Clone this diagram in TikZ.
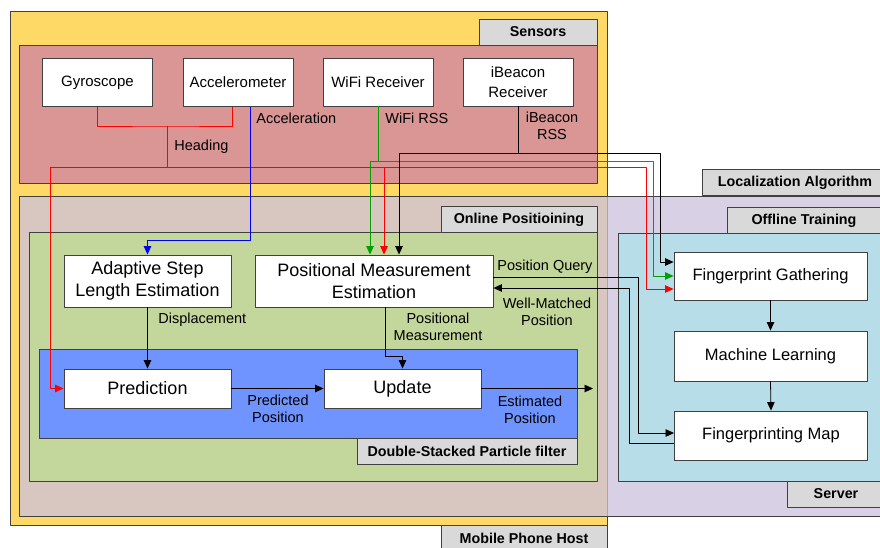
\documentclass[tikz,border=0pt]{standalone}
\usepackage{fontspec}
\setmainfont{Liberation Sans}
\usetikzlibrary{arrows.meta}

\definecolor{hostyellow}{RGB}{255,217,102}
\definecolor{sensorpink}{RGB}{217,150,148}
\definecolor{onlinegreen}{RGB}{195,214,155}
\definecolor{filterblue}{RGB}{112,148,255}
\definecolor{offlinecyan}{RGB}{183,221,232}
\definecolor{algolav}{RGB}{204,194,220}
\definecolor{tabgray}{RGB}{217,217,217}
\definecolor{framegray}{RGB}{64,64,64}
\definecolor{rssgreen}{RGB}{0,160,0}

\tikzset{
  areabox/.style={draw=framegray, line width=0.9pt},
  tab/.style={draw=framegray, line width=0.9pt, fill=tabgray, inner sep=0pt,
    minimum height=26pt, font=\fontsize{14.3}{16}\selectfont\bfseries},
  block/.style={draw=framegray, fill=white, line width=0.9pt, inner sep=0pt, align=center},
  sensor/.style={block, minimum width=110pt, minimum height=48pt,
    font=\fontsize{15}{20}\selectfont},
  online/.style={block, minimum height=52pt, font=\fontsize{18}{22}\selectfont},
  offline/.style={block, minimum width=193pt, minimum height=49pt,
    font=\fontsize{16.5}{20}\selectfont},
  lbl/.style={inner sep=0pt, align=center, font=\fontsize{14.5}{17}\selectfont},
}

\begin{document}
\begin{tikzpicture}[x=1pt, y=-1pt, >={Triangle[length=8.5pt,width=7.5pt]},
    line width=0.8pt, line join=round]
    \clip (0,0) rectangle (880,547);

    % 1. 手机端 (Mobile Phone Host)
    \draw[areabox, fill=hostyellow] (10,11) rectangle (607,525);
    \node[tab, minimum width=166pt] (hosttab) at (524,538) {Mobile Phone Host};

    % 2. 传感器区域
    \draw[areabox, fill=sensorpink] (19,45) rectangle (597,183);
    \node[tab, minimum width=118pt] (sensortab) at (538,32) {Sensors};

    % 3. 定位算法 (半透明, 覆盖在手机端之上)
    \draw[areabox, fill=algolav, fill opacity=0.77] (19,196) rectangle (888,516);
    \node[tab, minimum width=186pt] (algotab) at (795,182.5) {Localization Algorithm};

    % 4. 在线定位 + 粒子滤波
    \draw[areabox, fill=onlinegreen] (29,232) rectangle (597,481);
    \node[tab, minimum width=156pt] (onlinetab) at (519,219.5) {Online Positioining};
    \draw[areabox, fill=filterblue] (39,349) rectangle (577,438);
    \node[tab, minimum width=220pt] (filtertab) at (467,451) {Double-Stacked Particle filter};

    % 5. 离线训练 (服务器)
    \draw[areabox, fill=offlinecyan] (618,233) rectangle (888,481);
    \node[tab, minimum width=154pt] (offlinetab) at (804,220.5) {Offline Training};
    \node[tab, minimum width=98pt] (servertab) at (836,494) {Server};

    % 传感器
    \node[sensor] (gyro) at (97.5,82.5) {Gyroscope};
    \node[sensor] (acc) at (238,82.5) {Accelerometer};
    \node[sensor] (wifi) at (378,82) {WiFi Receiver};
    \node[sensor] (ibeacon) at (518,82) {iBeacon\\Receiver};

    % 在线模块
    \node[online, minimum width=167pt] (asle) at (147.5,281) {Adaptive Step\\Length Estimation};
    \node[online, minimum width=238pt] (pme) at (374,281) {Positional Measurement\\Estimation};
    \node[online, minimum width=167pt, minimum height=39pt] (pred) at (147.5,388.5) {Prediction};
    \node[online, minimum width=157pt, minimum height=39pt] (upd) at (402.5,388.5) {Update};

    % 离线模块
    \node[offline, minimum height=48pt] (fg) at (770.5,276) {Fingerprint Gathering};
    \node[offline, minimum height=50pt] (ml) at (770.5,356) {Machine Learning};
    \node[offline] (fm) at (771,435.5) {Fingerprinting Map};

    % Heading (红线)
    \coordinate (hj) at (167,126);
    \coordinate (hb) at (167,167);
    \coordinate (hl) at (50,167);
    \coordinate (hr) at (646,167);
    \coordinate (hp) at (384,167);
    \draw[red] (gyro.south) |- (hj) -| ([xshift=-6pt]acc.south);
    \draw[red] (hj) -- (hb);
    \draw[red, ->] (hb) -- (hl) |- (pred.west);
    \draw[red, ->] (hb) -- (hr) |- ([yshift=-13pt]fg.west);
    \draw[red, ->] (hp) -- (hp |- pme.north);

    % Acceleration (蓝线)
    \coordinate (ab) at (250,240);
    \draw[blue, ->] ([xshift=12pt]acc.south) -- (ab) -| (asle.north);

    % WiFi RSS (绿线)
    \coordinate (wj) at (378,161);
    \coordinate (wl) at (370,161);
    \coordinate (wr) at (653,161);
    \draw[rssgreen] (wifi.south) -- (wj);
    \draw[rssgreen, ->] (wj) -- (wl) -- (wl |- pme.north);
    \draw[rssgreen, ->] (wj) -- (wr) |- (fg.west);

    % iBeacon RSS (黑线)
    \coordinate (bj) at (518,153);
    \coordinate (bl) at (399,153);
    \coordinate (br) at (660,153);
    \draw (ibeacon.south) -- (bj);
    \draw[->] (bj) -- (bl) -- (bl |- pme.north);
    \draw[->] (bj) -- (br) |- ([yshift=14pt]fg.west);

    % 查询与匹配
    \coordinate (qr) at (638,277);
    \coordinate (mr) at (629,443);
    \draw[->] ([yshift=4pt]pme.east) -- (qr) |- ([yshift=2.5pt]fm.west);
    \draw[->] ([yshift=-7.5pt]fm.west) -- (mr) |- ([yshift=-7pt]pme.east);

    % 滤波流程
    \coordinate (pj) at (385,356);
    \coordinate (est) at (593,388.5);
    \draw[->] (asle.south) -- (pred.north);
    \draw[->] ([xshift=11pt]pme.south) -- (pj) -| (upd.north);
    \draw[->] (pred.east) -- (upd.west);
    \draw[->] (upd.east) -- (est);
    \draw[->] (fg.south) -- (ml.north);
    \draw[->] (ml.south) -- (fm.north);

    % 标注
    \node[lbl, anchor=west] (lhead) at (174,147) {Heading};
    \node[lbl, anchor=west] (lacc) at (256,118) {Acceleration};
    \node[lbl, anchor=west] (lwifi) at (385,118) {WiFi RSS};
    \node[lbl] (lbeacon) at (552,125.5) {iBeacon\\RSS};
    \node[lbl, anchor=west] (ldisp) at (158,320) {Displacement};
    \node[lbl] (lpm) at (438,326.5) {Positional\\Measurement};
    \node[lbl, anchor=west] (lquery) at (497,267) {Position Query};
    \node[lbl] (lmatch) at (547,311.5) {Well-Matched\\Position};
    \node[lbl] (lpred) at (278,409) {Predicted\\Position};
    \node[lbl] (lest) at (530,410) {Estimated\\Position};
\end{tikzpicture}
\end{document}
